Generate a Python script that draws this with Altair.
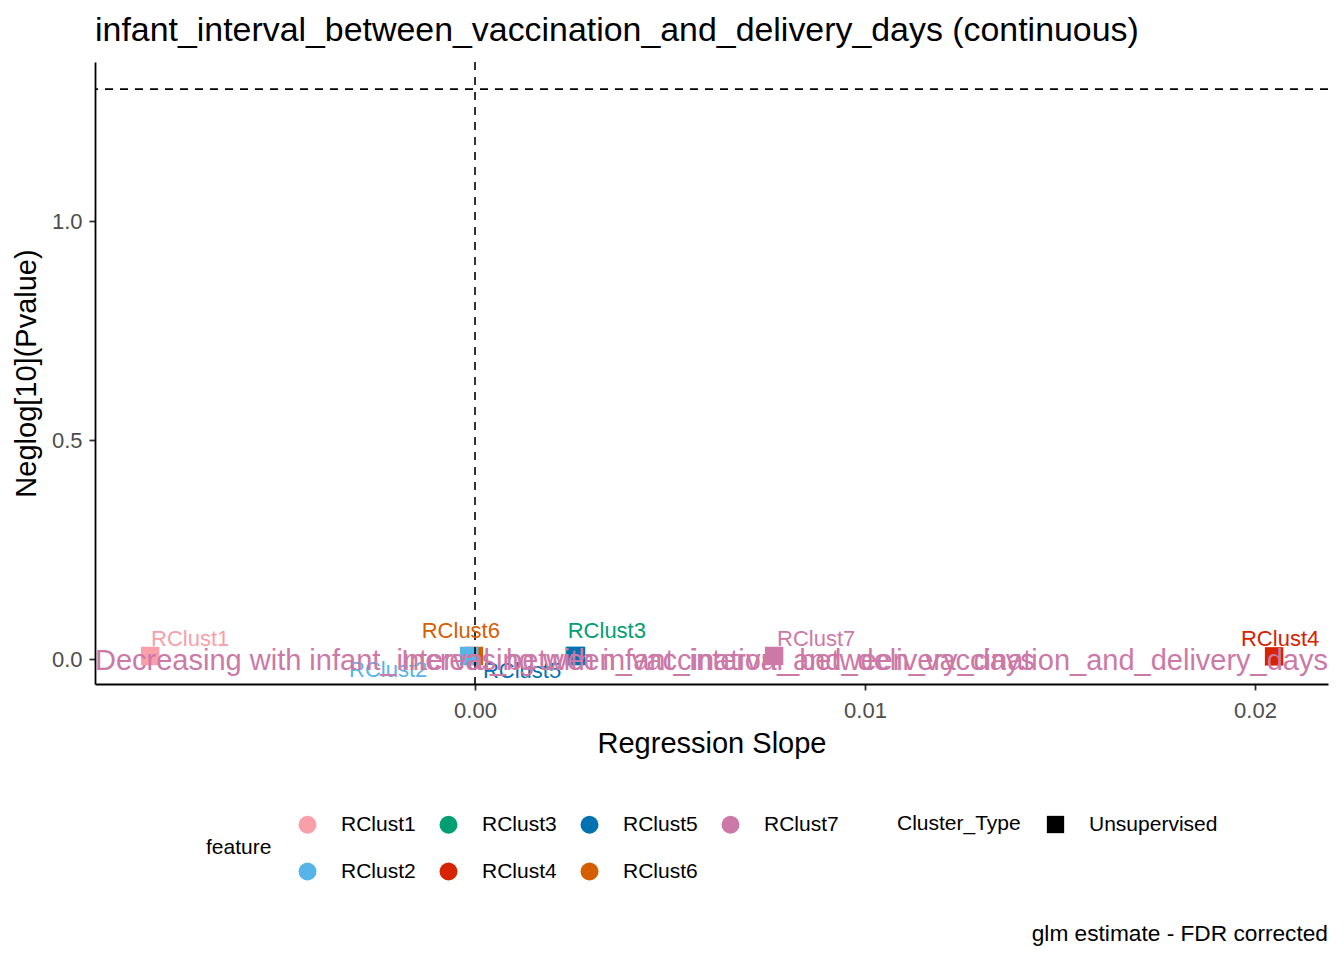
import altair as alt
import pandas as pd

# ---------------- data ----------------
features = ["RClust1", "RClust3", "RClust6", "RClust2", "RClust4", "RClust5", "RClust7"]
slopes = [-0.00833, 0.00256, -0.00003, -0.00015, 0.02049, 0.00259, 0.00767]
neglog_p = [0.007, 0.007, 0.007, 0.007, 0.006, 0.007, 0.007]
cluster_type = ["Unsupervised"] * 7

legend_order = ["RClust1", "RClust3", "RClust5", "RClust7", "RClust2", "RClust4", "RClust6"]
legend_colors = ["#F99FAA", "#009E73", "#0072B2", "#CC79A7", "#56B4E9", "#D62300", "#D55E00"]

vline_at = [0.0]
hline_at = [1.301]

x_ticks = [0.0, 0.01, 0.02]
y_ticks = [0.0, 0.5, 1.0]
x_limits = [-0.009744, 0.021872]
y_limits = [-0.057, 1.363]

title_text = "infant_interval_between_vaccination_and_delivery_days (continuous)"
decreasing_text = ["Decreasing with infant_interval_between_vaccination_and_delivery_days"]
increasing_text = ["Increasing with infant_interval_between_vaccination_and_delivery_days"]
caption_text = ["glm estimate - FDR corrected"]

FONT = "Liberation Sans"
W, H = 1233, 622

df = pd.DataFrame({"feature": features, "slope": slopes, "neglog": neglog_p,
                   "Cluster_Type": cluster_type})

xscale = alt.Scale(domain=x_limits, nice=False, zero=False)
yscale = alt.Scale(domain=y_limits, nice=False, zero=False)
cscale = alt.Scale(domain=legend_order, range=legend_colors)

x_enc = alt.X("slope:Q", scale=xscale,
              axis=alt.Axis(values=x_ticks, format=".2f", title="Regression Slope",
                            labelPadding=10, titleBaseline="alphabetic", titleY=68))
y_enc = alt.Y("neglog:Q", scale=yscale,
              axis=alt.Axis(values=y_ticks, format=".1f", title="Neglog[10](Pvalue)",
                            labelPadding=7, titleBaseline="alphabetic", titleX=-60,
                            titleY=H / 2, titleAngle=270, titleAlign="center"))

color_legend = alt.Legend(orient="none", legendX=111, legendY=752, columns=4,
                          direction="horizontal", titleOrient="left", titleAnchor="middle",
                          titleBaseline="middle",
                          symbolType="circle", symbolSize=324, symbolStrokeWidth=0,
                          symbolOpacity=1, labelOffset=23, columnPadding=22, rowPadding=25,
                          titlePadding=25, gridAlign="all", padding=0)
shape_legend = alt.Legend(orient="none", legendX=802, legendY=752, direction="horizontal",
                          titleOrient="left", titleBaseline="middle", symbolSize=300,
                          symbolFillColor="black", symbolStrokeColor="black",
                          symbolStrokeWidth=0, symbolOpacity=1, labelOffset=23,
                          titlePadding=24, padding=0)

base = alt.Chart(df)

points = base.mark_point(filled=True, opacity=1, size=340).encode(
    x=x_enc, y=y_enc,
    color=alt.Color("feature:N", scale=cscale, legend=color_legend),
    shape=alt.Shape("Cluster_Type:N", scale=alt.Scale(domain=["Unsupervised"], range=["square"]),
                    legend=shape_legend),
)

vline = alt.Chart(pd.DataFrame({"v": vline_at})).mark_rule(
    color="black", strokeWidth=1.6, strokeDash=[8, 7]).encode(
    x=alt.X("v:Q", scale=xscale))
hline = alt.Chart(pd.DataFrame({"h": hline_at})).mark_rule(
    color="black", strokeWidth=1.6, strokeDash=[8, 7]).encode(
    y=alt.Y("h:Q", scale=yscale))

# repelled label offsets (pixels)
label_offsets = {
    "RClust1": (40, -10), "RClust2": (-81, 21), "RClust3": (32, -18),
    "RClust4": (6, -10), "RClust5": (-54, 22), "RClust6": (-13, -18),
    "RClust7": (42, -10),
}
label_layers = []
for f, (ddx, ddy) in label_offsets.items():
    label_layers.append(
        base.transform_filter(alt.datum.feature == f).mark_text(
            font=FONT, fontSize=22, align="center", baseline="alphabetic", dx=ddx, dy=ddy
        ).encode(x=alt.X("slope:Q", scale=xscale), y=alt.Y("neglog:Q", scale=yscale),
                 text="feature:N", color=alt.Color("feature:N", scale=cscale))
    )

dec = alt.Chart(pd.DataFrame({"x": [x_limits[0]], "y": [0.0], "t": decreasing_text})).mark_text(
    font=FONT, fontSize=29, align="left", baseline="alphabetic", dy=11, color="#CC79A7"
).encode(x=alt.X("x:Q", scale=xscale), y=alt.Y("y:Q", scale=yscale), text="t:N")
inc = alt.Chart(pd.DataFrame({"x": [x_limits[1]], "y": [0.0], "t": increasing_text})).mark_text(
    font=FONT, fontSize=29, align="right", baseline="alphabetic", dy=11, color="#CC79A7"
).encode(x=alt.X("x:Q", scale=xscale), y=alt.Y("y:Q", scale=yscale), text="t:N")

caption = alt.Chart(pd.DataFrame({"t": caption_text})).mark_text(
    font=FONT, fontSize=22.7, align="right", baseline="alphabetic", color="black"
).encode(x=alt.value(W), y=alt.value(879), text="t:N")

chart = alt.layer(points, vline, hline, *label_layers, dec, inc, caption).properties(
    width=W, height=H,
    title=alt.TitleParams(title_text, anchor="start", frame="group", fontSize=33.9, font=FONT,
                          fontWeight="normal", color="black", baseline="bottom", offset=15,
                          dy=36),
    autosize=alt.AutoSizeParams(type="none"),
    padding={"left": 87, "top": 54, "right": 8, "bottom": 262},
).configure_view(stroke=None).configure_axis(
    grid=False, domainColor="black", domainWidth=1.8, tickColor="#333333", tickWidth=1.8,
    tickSize=6, labelColor="#4D4D4D", labelFontSize=22, labelFont=FONT,
    titleFontSize=29, titleFont=FONT, titleFontWeight="normal", titleColor="black",
).configure_legend(
    labelFont=FONT, titleFont=FONT, labelFontSize=21, titleFontSize=21,
    titleFontWeight="normal", labelColor="black", titleColor="black",
)

chart.save("out.html", embed_options={"renderer": "svg", "actions": False})
